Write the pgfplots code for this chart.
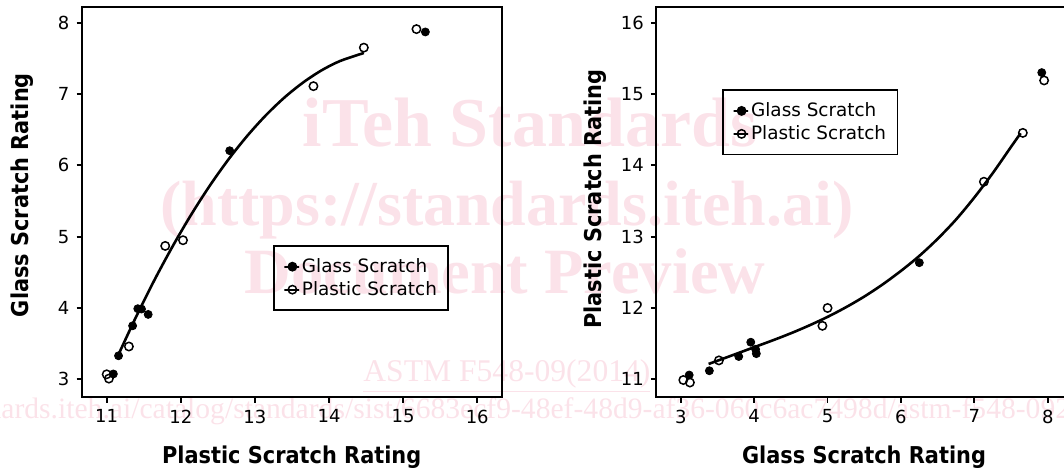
\documentclass[border=0pt]{standalone}
\usepackage{fontspec}
\usepackage{pgfplots}
\pgfplotsset{compat=1.18}
\setmainfont{DejaVu Sans}
\newfontfamily\labfont[FakeStretch=0.9]{DejaVu Sans}
\newfontfamily\wmfont{Liberation Serif}
\definecolor{wm}{RGB}{251,226,233}
\pgfplotsset{
  myax/.style={
    scale only axis, anchor=south west,
    axis line style={line width=1pt, black},
    tick align=outside, xtick pos=bottom, ytick pos=left,
    major tick length=2.6pt,
    tick style={line width=0.9pt, black},
    tick label style={font=\fontsize{9}{10}\selectfont},
    /pgf/number format/assume math mode=true,
    label style={font=\labfont\bfseries\fontsize{11.6}{13}\selectfont},
    x label style={at={(axis description cs:0.5,0)}, anchor=base, yshift=-33.25pt},
    legend cell align=left,
    legend style={draw=black, line width=0.9pt, fill=none,
      font=\fontsize{9.2}{10}\selectfont,
      inner xsep=4.7pt, inner ysep=5.1pt, row sep=1pt,
      nodes={inner sep=1pt, text depth=0.15em},
      anchor=north west},
  },
  filledpt/.style={only marks, mark=*, mark size=2pt, black,
    legend image code/.code={\path (0pt,0pt) rectangle (7.3pt,0pt); \draw[##1] plot coordinates {(4pt,0pt)};}},
  openpt/.style={only marks, mark=o, mark size=2.1pt, black, mark options={line width=0.75pt},
    legend image code/.code={\path (0pt,0pt) rectangle (7.3pt,0pt); \draw[##1] plot coordinates {(4pt,0pt)};}},
}
\begin{document}
\begin{tikzpicture}[x=1pt,y=1pt]
\path[use as bounding box] (0,0) rectangle (532,235);
% watermark
\begin{scope}[every node/.style={text=wm, inner sep=0pt}]
\node[anchor=base, font=\wmfont\bfseries\fontsize{35}{40}\selectfont] at (265,161.5) {iTeh Standards};
\node[anchor=base, font=\wmfont\bfseries\fontsize{32}{40}\selectfont] at (253.5,122) {(https://standards.iteh.ai)};
\node[anchor=base, font=\wmfont\bfseries\fontsize{32.3}{40}\selectfont] at (252.5,88) {Document Preview};
\node[anchor=base west, font=\wmfont\fontsize{15.8}{17}\selectfont] at (181.5,44) {\underline{ASTM F548-09(2014)}};
\node[anchor=base west, font=\wmfont\fontsize{14.8}{17}\selectfont] at (0.5,25.5) {\llap{https://stand}ards.iteh.ai/catalog/standards/sist/6683ecf9-48ef-48d9-af36-060c6ac7498d/astm-f548-092014};
\end{scope}
% left panel
\begin{axis}[myax, at={(40.85pt,36.25pt)}, width=210pt, height=195.4pt,
  xmin=10.663, xmax=16.33, ymin=2.745, ymax=8.224,
  xtick={11,12,13,14,15,16}, ytick={3,4,5,6,7,8},
  xlabel={Plastic Scratch Rating}, ylabel={Glass Scratch Rating},
  y label style={at={(axis description cs:-0.1262,0.518)}, anchor=base},
  legend style={at={(axis description cs:0.456,0.390)}}]
\addplot[filledpt] coordinates {(15.30,7.87) (12.66,6.205) (11.42,3.99) (11.47,3.985) (11.56,3.91) (11.35,3.75) (11.16,3.33) (11.09,3.075)};
\addlegendentry{Glass Scratch}
\addplot[openpt] coordinates {(15.18,7.91) (14.47,7.65) (13.79,7.11) (12.03,4.95) (11.79,4.87) (11.30,3.46) (11.00,3.07) (11.03,3.01)};
\addlegendentry{Plastic Scratch}
\addplot[black, line width=1.3pt, smooth, forget plot] coordinates {(11.165,3.36) (11.4,3.883) (11.65,4.403) (11.9,4.883) (12.15,5.325) (12.4,5.728) (12.65,6.092) (12.9,6.417) (13.15,6.704) (13.4,6.952) (13.65,7.161) (13.9,7.332) (14.15,7.463) (14.47,7.575)};
\end{axis}
% right panel
\begin{axis}[myax, at={(328pt,36.25pt)}, width=208pt, height=195.4pt,
  xmin=2.663, xmax=8.33, ymin=10.745, ymax=16.224,
  xtick={3,4,5,6,7,8}, ytick={11,12,13,14,15,16},
  xlabel={Glass Scratch Rating}, ylabel={Plastic Scratch Rating},
  y label style={at={(axis description cs:-0.131,0.508)}, anchor=base},
  legend style={at={(axis description cs:0.1596,0.7886)}}]
\addplot[filledpt] coordinates {(7.918,15.30) (6.25,12.635) (3.954,11.52) (4.02,11.42) (4.03,11.36) (3.79,11.32) (3.39,11.12) (3.115,11.06)};
\addlegendentry{Glass Scratch}
\addplot[openpt] coordinates {(7.95,15.19) (7.66,14.455) (7.13,13.77) (5.0,12.0) (4.93,11.75) (3.52,11.265) (3.035,10.99) (3.125,10.955)};
\addlegendentry{Plastic Scratch}
\addplot[black, line width=1.3pt, smooth, forget plot] coordinates {(3.38,11.215) (3.75,11.355) (4.0,11.45) (4.25,11.545) (4.5,11.645) (4.75,11.755) (5.0,11.875) (5.25,12.01) (5.5,12.16) (5.75,12.33) (6.0,12.52) (6.25,12.73) (6.5,12.97) (6.75,13.24) (7.0,13.55) (7.25,13.89) (7.5,14.26) (7.63,14.45)};
\end{axis}
\end{tikzpicture}
\end{document}
